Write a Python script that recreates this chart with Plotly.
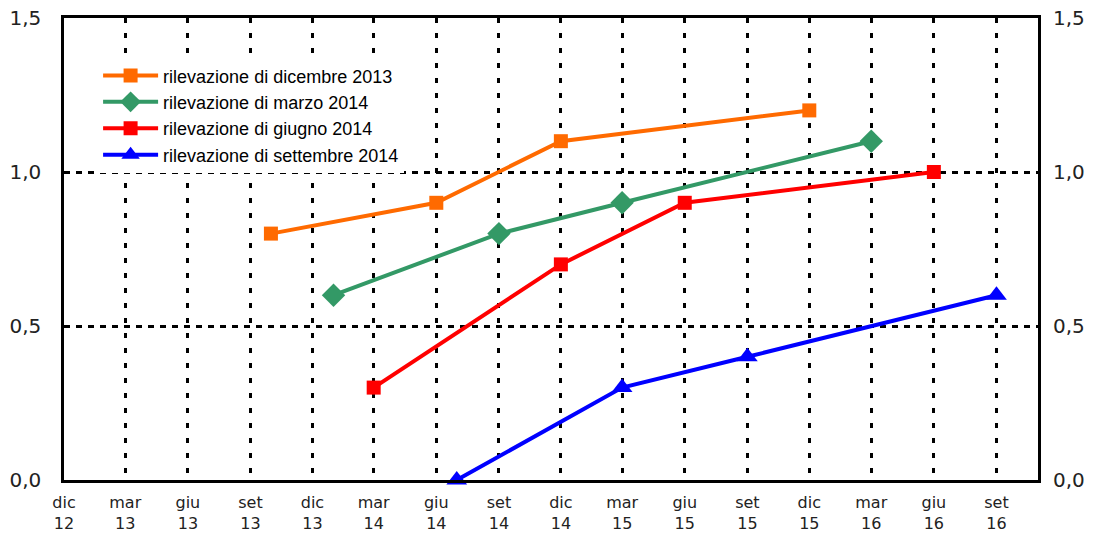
import plotly.graph_objects as go

# Tick labels (quarterly) and their dates
tick_dates = ["2012-12-01", "2013-03-01", "2013-06-01", "2013-09-01", "2013-12-01",
              "2014-03-01", "2014-06-01", "2014-09-01", "2014-12-01", "2015-03-01",
              "2015-06-01", "2015-09-01", "2015-12-01", "2016-03-01", "2016-06-01",
              "2016-09-01"]
tick_labels = ["dic<br>12", "mar<br>13", "giu<br>13", "set<br>13", "dic<br>13",
               "mar<br>14", "giu<br>14", "set<br>14", "dic<br>14", "mar<br>15",
               "giu<br>15", "set<br>15", "dic<br>15", "mar<br>16", "giu<br>16",
               "set<br>16"]

# Series
dic13_x = ["2013-10-01", "2014-06-01", "2014-12-01", "2015-12-01"]
dic13_y = [0.8, 0.9, 1.1, 1.2]
mar14_x = ["2014-01-01", "2014-09-01", "2015-03-01", "2016-03-01"]
mar14_y = [0.6, 0.8, 0.9, 1.1]
giu14_x = ["2014-03-01", "2014-12-01", "2015-06-01", "2016-06-01"]
giu14_y = [0.3, 0.7, 0.9, 1.0]
set14_x = ["2014-07-01", "2015-03-01", "2015-09-01", "2016-09-01"]
set14_y = [0.0, 0.3, 0.4, 0.6]

y_ticks = [0, 0.5, 1.0, 1.5]
y_labels = ["0,0", "0,5", "1,0", "1,5"]

series = [
    ("rilevazione di dicembre 2013", dic13_x, dic13_y, "#FF6A00", "square", 14),
    ("rilevazione di marzo 2014", mar14_x, mar14_y, "#339966", "diamond", 18),
    ("rilevazione di giugno 2014", giu14_x, giu14_y, "#FF0000", "square", 14),
    ("rilevazione di settembre 2014", set14_x, set14_y, "#0000FF", "triangle-up", 18),
]

fig = go.Figure()
for name, xs, ys, col, sym, sz in series:
    fig.add_trace(go.Scatter(
        x=xs, y=ys, name=name, mode="lines+markers",
        line=dict(color=col, width=4),
        marker=dict(symbol=sym, size=sz, color=col),
        cliponaxis=False,
    ))

# dummy trace for the right axis
fig.add_trace(go.Scatter(x=[tick_dates[0]], y=[0], yaxis="y2", mode="markers",
                         marker=dict(opacity=0), showlegend=False, hoverinfo="skip"))

tickfont = dict(family="DejaVu Sans", size=20, color="#222222")

fig.update_layout(
    width=1093, height=533,
    margin=dict(l=64, r=55, t=18, b=53, autoexpand=False),
    plot_bgcolor="white", paper_bgcolor="white",
    showlegend=True,
    legend=dict(x=0.035, y=0.915, xanchor="left", yanchor="top",
                bgcolor="white",
                font=dict(family="Liberation Sans, Arial", size=18, color="black"),
                tracegroupgap=0, itemwidth=55),
    xaxis=dict(
        type="date", range=["2012-12-01", "2016-11-01"],
        tickmode="array", tickvals=tick_dates, ticktext=tick_labels,
        tickfont=dict(family="DejaVu Sans", size=16, color="#222222"),
        showgrid=True, gridcolor="black", gridwidth=2.5, griddash="5px,10px",
        showline=True, linecolor="black", linewidth=2.5, mirror=True,
        ticks="", ticklabelstandoff=6, zeroline=False, automargin=False,
    ),
    yaxis=dict(
        range=[0, 1.5], tickmode="array", tickvals=y_ticks, ticktext=y_labels,
        tickfont=tickfont,
        showgrid=True, gridcolor="black", gridwidth=2.5, griddash="6px,6px",
        showline=True, linecolor="black", linewidth=2.5, mirror=True,
        ticks="", ticklabelstandoff=16, zeroline=False, automargin=False,
    ),
    yaxis2=dict(
        range=[0, 1.5], tickmode="array", tickvals=y_ticks, ticktext=y_labels,
        tickfont=tickfont, overlaying="y", side="right",
        showgrid=False, zeroline=False, showline=False,
        ticks="", ticklabelstandoff=14, automargin=False,
    ),
)

fig.write_html("out.html", config={"displayModeBar": False},
               post_script="document.body.style.margin='0';")
